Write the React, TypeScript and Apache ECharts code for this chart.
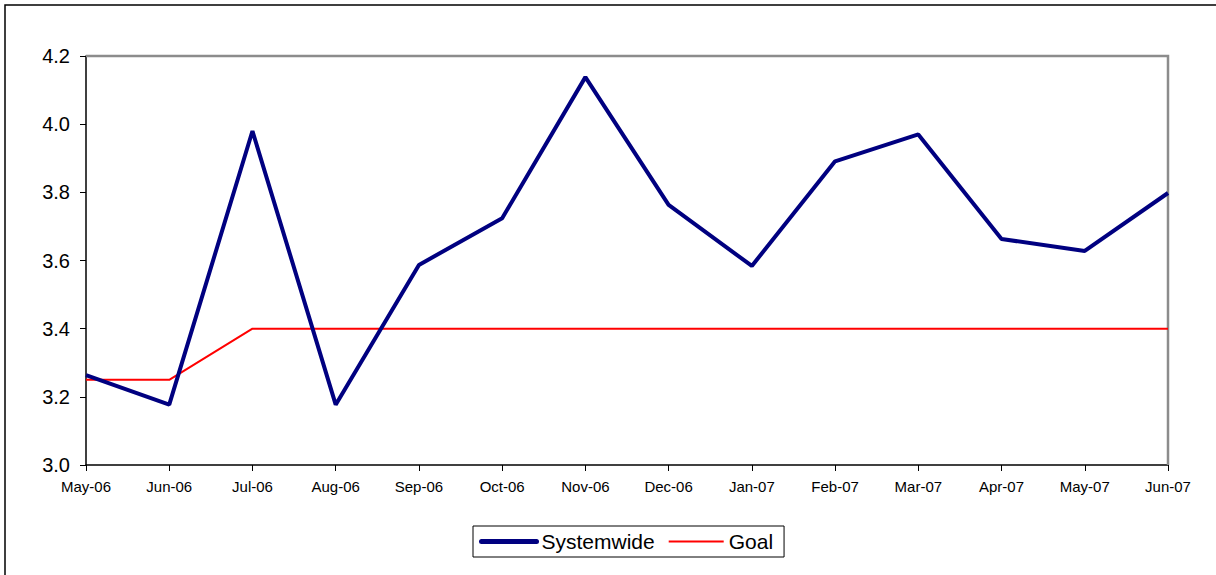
import React, { useEffect, useRef } from "react";
import * as echarts from "echarts";

const categories = ["May-06", "Jun-06", "Jul-06", "Aug-06", "Sep-06", "Oct-06", "Nov-06", "Dec-06", "Jan-07", "Feb-07", "Mar-07", "Apr-07", "May-07", "Jun-07"];
const systemwide = [3.264, 3.177, 3.98, 3.177, 3.587, 3.724, 4.138, 3.763, 3.584, 3.891, 3.97, 3.663, 3.628, 3.798];
const goal = [3.25, 3.25, 3.4, 3.4, 3.4, 3.4, 3.4, 3.4, 3.4, 3.4, 3.4, 3.4, 3.4, 3.4];

const FONT = "'Liberation Sans', Arial, sans-serif";

export default function App() {
  const ref = useRef<HTMLDivElement>(null);
  useEffect(() => {
    const chart = echarts.init(ref.current!, null, { renderer: "svg" });
    chart.setOption({
      animation: false,
      backgroundColor: "#ffffff",
      textStyle: { fontFamily: FONT },
      graphic: [
        {
          type: "rect",
          shape: { x: 5, y: 5, width: 1400, height: 800 },
          style: { fill: "none", stroke: "#000", lineWidth: 1.5 },
          silent: true,
        },
        {
          type: "polyline",
          shape: { points: [[86, 56], [1168, 56], [1168, 465]] },
          style: { fill: "none", stroke: "#8c8c8c", lineWidth: 2.5 },
          silent: true,
          z: 1,
        },
      ],
      grid: { left: 86, top: 56, right: 48, bottom: 110, containLabel: false },
      legend: {
        data: [
          { name: "Systemwide", lineStyle: { width: 5, cap: "round" } },
          { name: "Goal" },
        ],
        left: 473,
        top: 526,
        itemWidth: 55,
        itemHeight: 14,
        itemGap: 13,
        borderColor: "#000",
        borderWidth: 1,
        padding: [5, 11, 5, 6],
        itemStyle: { color: "transparent", opacity: 0, borderWidth: 0 },
        textStyle: { fontFamily: FONT, fontSize: 21, color: "#000" },
      },
      xAxis: {
        type: "category",
        data: categories,
        boundaryGap: false,
        axisLine: { lineStyle: { color: "#000", width: 1.5 } },
        axisTick: { show: true, length: 6, lineStyle: { color: "#000" } },
        axisLabel: { fontSize: 15, color: "#000", margin: 14, fontFamily: FONT, interval: 0 },
        splitLine: { show: false },
      },
      yAxis: {
        type: "value",
        min: 3.0,
        max: 4.2,
        interval: 0.2,
        axisLine: { show: true, lineStyle: { color: "#000", width: 1.5 } },
        axisTick: { show: true, length: 6, lineStyle: { color: "#000" } },
        axisLabel: { fontSize: 20, color: "#000", margin: 16, fontFamily: FONT, formatter: (v: number) => v.toFixed(1) },
        splitLine: { show: false },
      },
      series: [
        {
          name: "Systemwide",
          type: "line",
          data: systemwide,
          showSymbol: false,
          symbol: "none",
          lineStyle: { color: "#000080", width: 4 },
          itemStyle: { color: "#000080" },
          z: 3,
        },
        {
          name: "Goal",
          type: "line",
          data: goal,
          showSymbol: false,
          symbol: "none",
          lineStyle: { color: "#ff0000", width: 2 },
          itemStyle: { color: "#ff0000" },
          z: 2,
        },
      ],
    });
    return () => chart.dispose();
  }, []);
  return <div ref={ref} style={{ position: "fixed", left: 0, top: 0, width: 1216, height: 575 }} />;
}
